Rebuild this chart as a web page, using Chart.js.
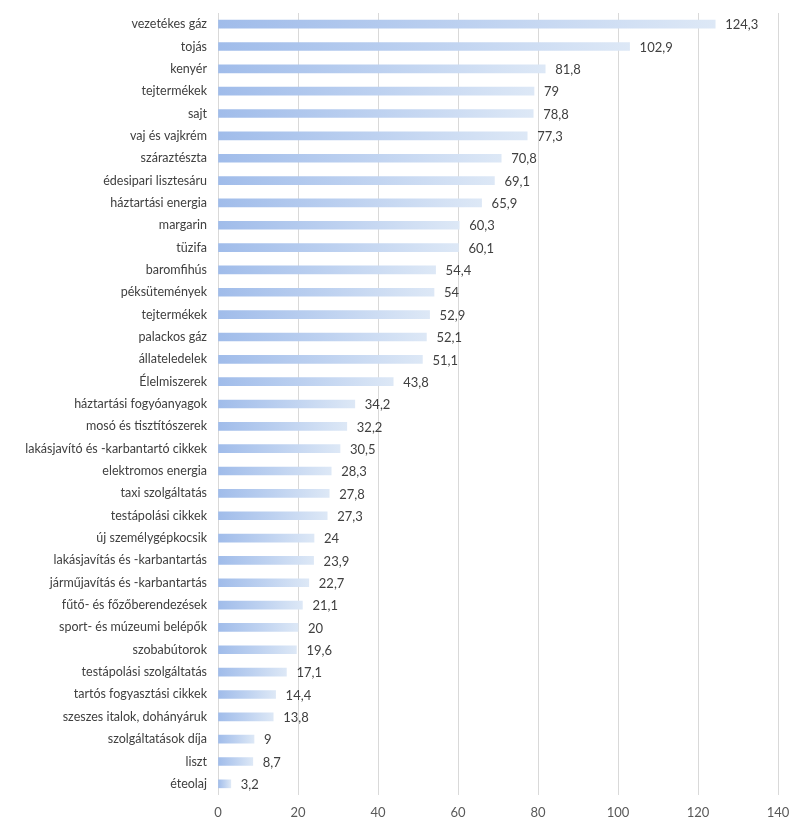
<!DOCTYPE html>
<html>
<head>
<meta charset="utf-8">
<script src="https://cdn.jsdelivr.net/npm/chart.js@4/dist/chart.umd.min.js"></script>
<style>
  html,body{margin:0;padding:0;background:#fff;}
  #wrap{width:800px;height:828px;position:relative;}
</style>
</head>
<body>
<div id="wrap"><canvas id="c"></canvas></div>
<script>
// ── Data ──────────────────────────────────────────────────────────────────────
const categories = [
  'vezetékes gáz','tojás','kenyér','tejtermékek','sajt','vaj és vajkrém','száraztészta',
  'édesipari lisztesáru','háztartási energia','margarin','tüzifa','baromfihús','péksütemények',
  'tejtermékek','palackos gáz','állateledelek','Élelmiszerek','háztartási fogyóanyagok',
  'mosó és tisztítószerek','lakásjavító és -karbantartó cikkek','elektromos energia',
  'taxi szolgáltatás','testápolási cikkek','új személygépkocsik','lakásjavítás és -karbantartás',
  'járműjavítás és -karbantartás','fűtő- és főzőberendezések','sport- és múzeumi belépők',
  'szobabútorok','testápolási szolgáltatás','tartós fogyasztási cikkek',
  'szeszes italok, dohányáruk','szolgáltatások díja','liszt','éteolaj'
];
const values = [
  124.3,102.9,81.8,79,78.8,77.3,70.8,69.1,65.9,60.3,60.1,54.4,54,52.9,52.1,51.1,43.8,
  34.2,32.2,30.5,28.3,27.8,27.3,24,23.9,22.7,21.1,20,19.6,17.1,14.4,13.8,9,8.7,3.2
];
const xTicks = [0,20,40,60,80,100,120,140];

const FONT = 'Lato, "Open Sans", sans-serif';
const fmtHu = v => String(v).replace('.',',');

// per-bar gradient, blue at the base fading to pale at the tip
function barFill(c) {
  const ch=c.chart, x=ch.scales && ch.scales.x;
  if (!x || c.dataIndex==null) return '#b8cdee';
  const x0=x.getPixelForValue(0), x1=x.getPixelForValue(values[c.dataIndex]);
  if (!isFinite(x0)||!isFinite(x1)||x1<=x0) return '#b8cdee';
  const g=ch.ctx.createLinearGradient(x0,0,x1,0);
  g.addColorStop(0,'#a0bcea');
  g.addColorStop(0.5,'#bdd1f0');
  g.addColorStop(1,'#dde8f6');
  return g;
}

// value labels at bar ends
const valLabels={id:'valLabels',afterDatasetsDraw(chart){
  const cx=chart.ctx, meta=chart.getDatasetMeta(0);
  cx.save();
  cx.font='13px '+FONT; cx.fillStyle='#404040'; cx.textAlign='left'; cx.textBaseline='middle';
  meta.data.forEach((bar,i)=>{ cx.fillText(fmtHu(values[i]),bar.x+10,bar.y+1); });
  cx.restore();
}};

new Chart(document.getElementById('c').getContext('2d'),{
  type:'bar',
  plugins:[valLabels],
  data:{labels:categories,datasets:[{data:values,backgroundColor:barFill,barThickness:8,borderWidth:0}]},
  options:{
    indexAxis:'y',responsive:true,maintainAspectRatio:false,animation:false,
    layout:{padding:{top:13,right:22,bottom:0,left:0}},
    plugins:{legend:{display:false},tooltip:{enabled:false}},
    scales:{
      x:{min:0,max:140,
        afterBuildTicks:s=>{s.ticks=xTicks.map(v=>({value:v}));},
        afterFit:s=>{s.height=33;s.paddingLeft=0;s.paddingRight=0;},
        grid:{color:'#d9d9d9',drawTicks:false},border:{display:false},
        ticks:{color:'#595959',padding:10,font:{family:FONT,size:13}}},
      y:{
        afterFit:s=>{s.width=218;s.paddingTop=0;s.paddingBottom=0;},
        grid:{display:false,drawTicks:false},border:{display:false},
        ticks:{color:'#404040',padding:11,autoSkip:false,font:{family:FONT,size:12.5}}}
    }
  }
});
</script>
</body>
</html>
